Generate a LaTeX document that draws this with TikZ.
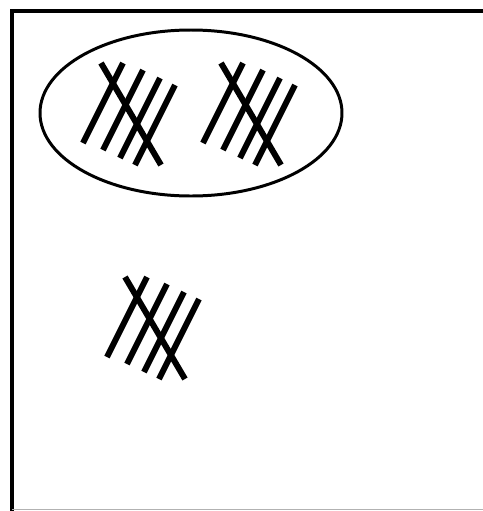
\documentclass[tikz,border=0pt]{standalone}
\usetikzlibrary{positioning}

\tikzset{
  frame/.style={line width=2pt,black},
  tally/.style={line width=3.4pt,black},
  bunch/.style={line width=1.7pt,black}
}

% one tally group of five, anchored at the top of its first stroke
\newcommand{\tallyfive}[1]{%
  \begin{scope}[shift={#1}]
    \foreach \dx/\dy in {0/0,20/7,37/15,52/22}
      \draw[tally] (\dx,\dy) -- ++(-40,80);
    \draw[tally] (-22,0) -- (38,102);
  \end{scope}}

\begin{document}
\begin{tikzpicture}[x=0.02cm,y=-0.02cm]
\useasboundingbox (0,0) rectangle (483,511);

% box, cut off at right and bottom
\coordinate (tr) at (483,11);
\coordinate (tl) at (12,11);
\coordinate (bl) at (12,511);
\draw[frame] (tr) -- (tl) -- (bl);
\draw[gray!60,line width=0.6pt] (12,509.5) -- (483,509.5);

% encircled pair
\draw[bunch] (191,113) ellipse [x radius=151, y radius=83];
\tallyfive{(123,63)}
\tallyfive{(243,63)}

% lone group
\tallyfive{(147,277)}
\end{tikzpicture}
\end{document}
